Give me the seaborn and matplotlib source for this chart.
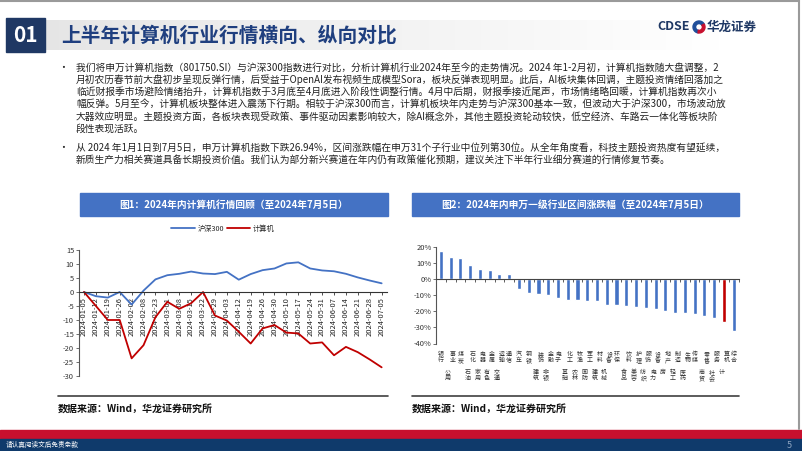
import numpy as np
import pandas as pd
import matplotlib
matplotlib.use('Agg')
import matplotlib.pyplot as plt
import seaborn as sns
from matplotlib.patches import Rectangle, Wedge
from matplotlib.ticker import FuncFormatter
import matplotlib.transforms as mtransforms

# ---------------- data ----------------
dates = ['2024-01-05', '2024-01-12', '2024-01-19', '2024-01-26', '2024-02-02', '2024-02-08',
         '2024-02-23', '2024-03-01', '2024-03-08', '2024-03-15', '2024-03-22', '2024-03-29',
         '2024-04-03', '2024-04-12', '2024-04-19', '2024-04-26', '2024-04-30', '2024-05-10',
         '2024-05-17', '2024-05-24', '2024-05-31', '2024-06-07', '2024-06-14', '2024-06-21',
         '2024-06-28', '2024-07-05']
hs300 = [0.0, -1.5, -2.0, 0.0, -4.5, 0.5, 4.5, 6.0, 6.5, 7.3, 6.6, 6.4, 7.2, 4.4, 6.4, 7.8,
         8.4, 10.2, 10.6, 8.4, 7.7, 7.4, 6.5, 5.2, 4.1, 3.1]
computer = [0.0, -5.0, -10.0, -10.0, -23.7, -19.0, -9.0, -3.5, -6.0, -4.0, 0.0, -8.4, -10.2,
            -14.2, -18.4, -13.0, -11.8, -14.5, -14.8, -18.4, -18.0, -22.6, -19.6, -21.5,
            -24.1, -26.9]
series_names = ['沪深300', '计算机']

industries = ['银行', '公用事业', '煤炭', '石油石化', '家用电器', '有色金属', '交通运输', '通信',
              '汽车', '钢铁', '建筑装饰', '非银金融', '电子', '基础化工', '农林牧渔', '国防军工',
              '建筑材料', '机械设备', '环保', '食品饮料', '美容护理', '纺织服饰', '电力设备',
              '房地产', '轻工制造', '医药生物', '传媒', '商贸零售', '社会服务', '计算机', '综合']
ind_returns = [17.3, 13.4, 13.0, 8.9, 6.0, 5.8, 3.3, 3.1, -6.0, -8.9, -9.5, -9.9, -11.8,
               -13.0, -13.2, -13.4, -13.8, -16.1, -16.3, -16.7, -17.3, -17.9, -18.4, -19.8,
               -20.8, -20.8, -21.6, -22.9, -24.1, -26.94, -32.0]

title_main = '上半年计算机行业行情横向、纵向对比'
para1 = ['我们将申万计算机指数（801750.SI）与沪深300指数进行对比，分析计算机行业2024年至今的走势情况。2024 年1-2月初，计算机指数随大盘调整，2',
         '月初农历春节前大盘初步呈现反弹行情，后受益于OpenAI发布视频生成模型Sora，板块反弹表现明显。此后，AI板块集体回调，主题投资情绪回落加之',
         '临近财报季市场避险情绪抬升，计算机指数于3月底至4月底进入阶段性调整行情。4月中后期，财报季接近尾声，市场情绪略回暖，计算机指数再次小',
         '幅反弹。5月至今，计算机板块整体进入震荡下行期。相较于沪深300而言，计算机板块年内走势与沪深300基本一致，但波动大于沪深300，市场波动放',
         '大器效应明显。主题投资方面，各板块表现受政策、事件驱动因素影响较大，除AI概念外，其他主题投资轮动较快，低空经济、车路云一体化等板块阶',
         '段性表现活跃。']
para2 = ['从 2024 年1月1日到7月5日，申万计算机指数下跌26.94%，区间涨跌幅在申万31个子行业中位列第30位。从全年角度看，科技主题投资热度有望延续，',
         '新质生产力相关赛道具备长期投资价值。我们认为部分新兴赛道在年内仍有政策催化预期，建议关注下半年行业细分赛道的行情修复节奏。']
fig1_title = '图1：2024年内计算机行情回顾（至2024年7月5日）'
fig2_title = '图2：2024年内申万一级行业区间涨跌幅（至2024年7月5日）'
source_text = '数据来源：Wind，华龙证券研究所'

# ---------------- style ----------------
sns.set_theme(style='white')
plt.rcParams['font.family'] = ['Noto Sans CJK SC', 'DejaVu Sans']
plt.rcParams['axes.unicode_minus'] = False

W, H = 802, 451
fig = plt.figure(figsize=(W / 100, H / 100), dpi=100)
fig.patch.set_facecolor('white')


def rect(x0, y0, x1, y1):
    return [x0 / W, 1 - y1 / H, (x1 - x0) / W, (y1 - y0) / H]


NAVY = '#1F3864'
BLUE = '#4472C4'
RED = '#C00000'

bg = fig.add_axes([0, 0, 1, 1])
bg.set_xlim(0, W)
bg.set_ylim(H, 0)
bg.axis('off')

# slide frame (top and right)
bg.plot([0, 799], [0.8, 0.8], color='#9a9a9a', lw=1.5)
bg.plot([798.5, 798.5], [0, 429], color='#9a9a9a', lw=1.5)

# header
grad = np.ones((2, 256, 3))
g = np.linspace(0.90, 1.0, 256)
for c in range(3):
    grad[:, :, c] = g
bg.imshow(grad, extent=(45, 720, 50, 20), aspect='auto', zorder=0)
bg.add_patch(Rectangle((6, 18), 39, 34, color=NAVY, zorder=2))
bg.text(25.5, 35.5, '01', color='white', fontsize=15, fontweight='bold',
        ha='center', va='center', zorder=3)
bg.text(61, 35, title_main, color='#1F3F7F', fontsize=14.2, fontweight='bold',
        ha='left', va='center', zorder=3)

# logo
bg.text(690, 27, 'CDSE', color=NAVY, fontsize=9, fontweight='bold', ha='right', va='center')
bg.add_patch(Wedge((699, 27), 6, 100, 330, width=2.6, color='#1F4E9A'))
bg.add_patch(Wedge((699, 27), 6, 330, 100, width=2.6, color='#C8102E'))
bg.text(707, 27, '华龙证券', color=NAVY, fontsize=9, fontweight='bold', ha='left', va='center')

# body text
txt_color = '#222222'
for i, line in enumerate(para1):
    bg.text(76, 67.5 + 12.2 * i, line, fontsize=7.0, color=txt_color, ha='left', va='center')
bg.text(63, 67.5, '•', fontsize=7.0, color=txt_color, ha='center', va='center')
for i, line in enumerate(para2):
    bg.text(76, 148 + 12.2 * i, line, fontsize=7.0, color=txt_color, ha='left', va='center')
bg.text(63, 148, '•', fontsize=7.0, color=txt_color, ha='center', va='center')

# chart title bars
bg.add_patch(Rectangle((80, 193), 308, 23, color=BLUE))
bg.text(234, 204.5, fig1_title, color='white', fontsize=7, fontweight='bold', ha='center', va='center')
bg.add_patch(Rectangle((412, 193), 327, 23, color=BLUE))
bg.text(575.5, 204.5, fig2_title, color='white', fontsize=7, fontweight='bold', ha='center', va='center')

# source lines
bg.plot([58, 388], [396, 396], color='#404040', lw=1.2)
bg.plot([412, 739], [396, 396], color='#404040', lw=1.2)
bg.text(58, 409, source_text, fontsize=7.2, fontweight='bold', color='#111111', ha='left', va='center')
bg.text(412, 409, source_text, fontsize=7.2, fontweight='bold', color='#111111', ha='left', va='center')

# footer
bg.add_patch(Rectangle((0, 429.5), W, 9.5, color='#C8102E'))
bg.add_patch(Rectangle((0, 439), W, 12, color='#0F3A6B'))
bg.text(6, 444.5, '请认真阅读文后免责条款', color='white', fontsize=4.8, ha='left', va='center')
bg.text(789, 445, '5', color='#8EA4C0', fontsize=6.5, ha='center', va='center')

# ---------------- chart 1 ----------------
df1 = pd.DataFrame({
    '日期': dates * 2,
    '涨跌幅': hs300 + computer,
    '指数': [series_names[0]] * len(dates) + [series_names[1]] * len(dates),
})
ax1 = fig.add_axes(rect(79, 250, 387, 376))
ax1.patch.set_alpha(0)
sns.lineplot(data=df1, x='日期', y='涨跌幅', hue='指数',
             palette={series_names[0]: BLUE, series_names[1]: RED},
             linewidth=1.3, ax=ax1, sort=False)
ax1.set_xlim(-0.42, 25.45)
ax1.set_ylim(-30, 15)
ax1.set_yticks(range(-30, 16, 5))
ax1.set_xlabel('')
ax1.set_ylabel('')
for s in ['top', 'right']:
    ax1.spines[s].set_visible(False)
ax1.spines['bottom'].set_position(('data', 0))
ax1.spines['bottom'].set_color('#333333')
ax1.spines['bottom'].set_linewidth(0.8)
ax1.spines['left'].set_color('#555555')
ax1.spines['left'].set_linewidth(0.8)
ax1.tick_params(axis='x', bottom=True, length=2.5, width=0.6, color='#333333',
                labelsize=5.4, labelrotation=90, pad=1, labelcolor='#222222')
ax1.tick_params(axis='y', left=True, length=2.5, width=0.6, color='#555555',
                labelsize=5.4, pad=1, labelcolor='#333333')
h, l = ax1.get_legend_handles_labels()
ax1.legend(h, l, loc='center', bbox_to_anchor=(223 / W, 1 - 229 / H), bbox_transform=fig.transFigure,
           ncol=2, frameon=False, fontsize=5.2, handlelength=3.2, columnspacing=0.4,
           handletextpad=0.4, borderaxespad=0)

# ---------------- chart 2 ----------------
colors = [RED if n == '计算机' else BLUE for n in industries]
ax2 = fig.add_axes(rect(436, 246.7, 738.5, 343.5))
ax2.patch.set_alpha(0)
sns.barplot(x=industries, y=ind_returns, hue=industries, palette=colors, legend=False,
            width=0.42, saturation=1, ax=ax2)
ax2.set_xlim(-0.5, 30.5)
ax2.set_ylim(-40, 20)
ax2.set_yticks(range(-40, 21, 10))
ax2.yaxis.set_major_formatter(FuncFormatter(lambda v, p: f'{v:.0f}%'))
ax2.set_xticks(np.arange(-0.5, 31, 1))
ax2.set_xticklabels([])
for s in ['top', 'right']:
    ax2.spines[s].set_visible(False)
ax2.spines['bottom'].set_position(('data', 0))
ax2.spines['bottom'].set_color('#444444')
ax2.spines['bottom'].set_linewidth(0.8)
ax2.spines['left'].set_color('#555555')
ax2.spines['left'].set_linewidth(0.8)
ax2.tick_params(axis='x', bottom=True, length=2.2, width=0.6, color='#444444')
ax2.tick_params(axis='y', left=True, length=2.2, width=0.6, color='#555555',
                labelsize=5.4, pad=1, labelcolor='#333333')

# stacked vertical category labels
tr = mtransforms.blended_transform_factory(ax2.transData, fig.transFigure)
row_h = 6.0
top_y = 354.5
dx = 2.5 / (302.5 / 31)  # column offset in data units
for i, name in enumerate(industries):
    if len(name) <= 2:
        cols = [(0.0, name, 0)]
    elif len(name) == 3:
        cols = [(dx, name[1:], 0), (-dx, name[:1], 3)]
    else:
        cols = [(dx, name[2:], 0), (-dx, name[:2], 3)]
    for off, chars, r0 in cols:
        for k, ch in enumerate(chars):
            yy = top_y + (r0 + k) * row_h
            ax2.text(i + off, 1 - yy / H, ch, transform=tr, fontsize=4.3, color='#333333',
                     ha='center', va='center')

fig.savefig('out.png', dpi=100)
